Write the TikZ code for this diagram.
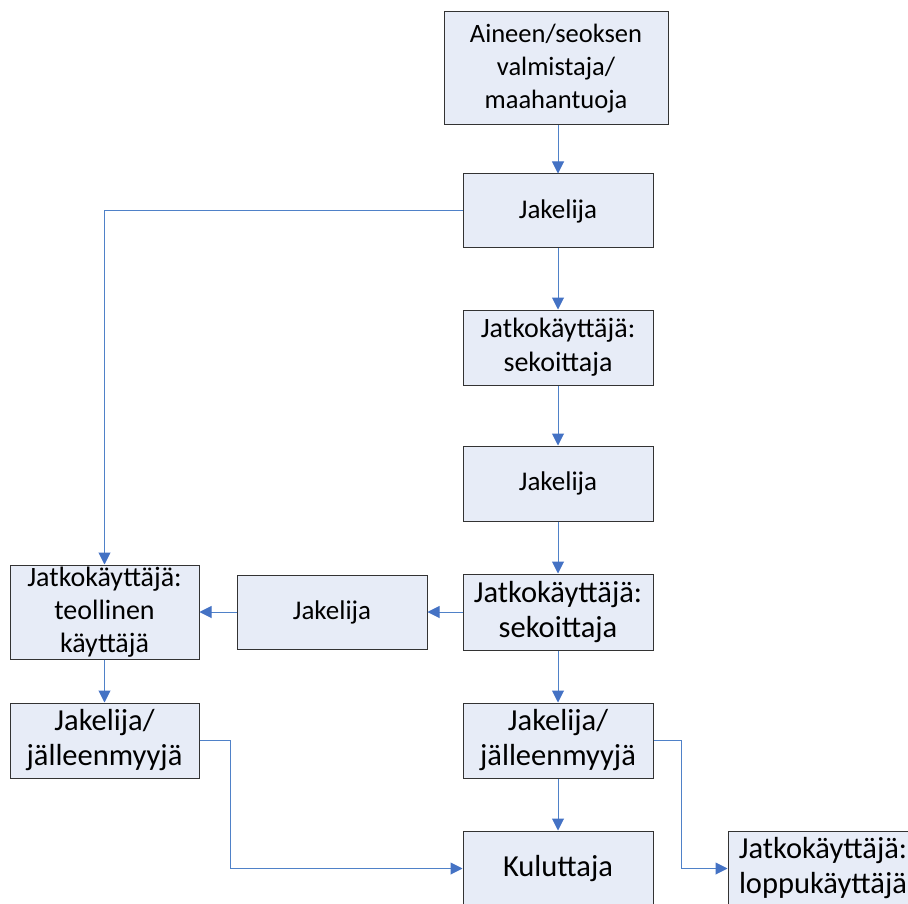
\documentclass[tikz,border=0pt]{standalone}
\usepackage{fontspec}
\setmainfont{Carlito}
\usetikzlibrary{arrows.meta}
\definecolor{boxfill}{HTML}{E7ECF7}
\definecolor{boxline}{HTML}{333333}
\definecolor{linkblue}{HTML}{4F81C8}
\definecolor{tipblue}{HTML}{4472C4}
\newcommand{\fsmall}{\fontsize{27}{33}\selectfont}
\newcommand{\fmid}{\fontsize{28}{34}\selectfont}
\newcommand{\fbig}{\fontsize{30.5}{35}\selectfont}
\tikzset{
  box/.style={draw=boxline, fill=boxfill, line width=1pt, minimum width=190pt,
    minimum height=75pt, inner sep=0pt, align=center, font=\fsmall},
  bigbox/.style={box, font=\fbig},
  arr/.style={draw=linkblue, line width=1pt,
    -{Triangle[width=12pt,length=12pt,fill=tipblue,color=tipblue]}},
}
\begin{document}
\begin{tikzpicture}[x=1pt,y=-1pt]
\useasboundingbox (0,0) rectangle (908,904);
\node[box, minimum width=224pt, minimum height=113pt, font=\fontsize{26.5}{33}\selectfont] (top) at (556,68.5) {Aineen/seoksen\\valmistaja/\\maahantuoja};
\node[box, minimum height=74pt] (j1) at (558,211) {Jakelija};
\node[box, font=\fmid] (s1) at (558,347.5) {Jatkokäyttäjä:\\sekoittaja};
\node[box] (j2) at (558,483.5) {Jakelija};
\node[bigbox, minimum height=76pt] (s2) at (558,612) {Jatkokäyttäjä:\\sekoittaja};
\node[bigbox] (jj) at (558,740.5) {Jakelija/\\jälleenmyyjä};
\node[bigbox] (kul) at (558,868.5) {Kuluttaja};
\node[box, minimum width=189pt, minimum height=94pt, font=\fontsize{28}{33}\selectfont] (teo) at (104.5,612) {Jatkokäyttäjä:\\teollinen\\käyttäjä};
\node[box, minimum height=74pt] (jm) at (332,612) {Jakelija};
\node[bigbox, minimum width=189pt] (ljj) at (104.5,740.5) {Jakelija/\\jälleenmyyjä};
\node[bigbox] (lop) at (823,868.5) {Jatkokäyttäjä:\\loppukäyttäjä};

\draw[arr] (top.south -| j1.north) -- (j1.north);
\draw[arr] (j1.south) -- (s1.north);
\draw[arr] (s1.south) -- (j2.north);
\draw[arr] (j2.south) -- (s2.north);
\draw[arr] (s2.south) -- (jj.north);
\draw[arr] (jj.south) -- (kul.north);
\draw[arr] (j1.west) -| (teo.north);
\draw[arr] (s2.west) -- (jm.east);
\draw[arr] (jm.west) -- (teo.east);
\draw[arr] (teo.south) -- (ljj.north);
\draw[arr] (ljj.east) -- ++(31,0) |- (kul.west);
\draw[arr] (jj.east) -- ++(28,0) |- (lop.west);
\end{tikzpicture}
\end{document}
